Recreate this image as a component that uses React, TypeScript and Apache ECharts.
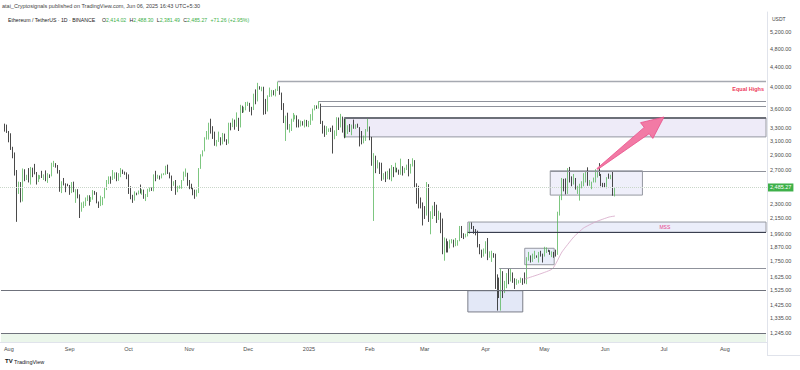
import React, { useEffect, useRef } from 'react';
import * as echarts from 'echarts';

// ---------- data ----------
const START_DATE = '2024-07-28';
const DAY_COUNT = 391;
const FIRST_CANDLE = '2024-07-30';

// daily candles [open, close, low, high], 2024-07-30 .. 2025-06-06
const ohlc: number[][] = [
  [3320,3280,3240,3365],[3280,3230,3220,3350],
  [3230,3205,3080,3250],[3205,2990,2970,3215],[2990,2905,2855,3015],[2905,2690,2630,2935],[2690,2420,2111,2700],
  [2420,2460,2410,2555],[2460,2340,2315,2550],[2340,2680,2325,2720],[2680,2600,2560,2710],[2600,2610,2575,2640],
  [2610,2555,2545,2725],[2555,2720,2520,2740],[2720,2700,2610,2730],[2700,2660,2645,2780],[2660,2570,2520,2675],
  [2570,2590,2550,2640],[2590,2615,2585,2635],[2615,2610,2600,2690],[2610,2635,2575,2645],[2635,2575,2560,2695],
  [2575,2630,2540,2660],[2630,2625,2600,2645],[2625,2765,2620,2795],[2765,2770,2740,2820],[2770,2750,2730,2790],
  [2750,2680,2655,2765],[2680,2455,2435,2700],[2455,2530,2420,2560],[2530,2528,2510,2600],[2528,2525,2430,2535],
  [2525,2510,2500,2530],
  [2510,2425,2400,2515],[2425,2540,2420,2550],[2540,2450,2430,2555],[2450,2452,2310,2465],[2452,2370,2360,2465],
  [2370,2225,2150,2405],[2225,2275,2215,2315],[2275,2300,2255,2325],[2300,2360,2275,2370],[2360,2390,2330,2395],
  [2390,2340,2280,2395],[2340,2360,2320,2375],[2360,2440,2345,2455],[2440,2420,2400,2445],[2420,2315,2305,2430],
  [2315,2295,2255,2325],[2295,2340,2275,2390],[2340,2370,2285,2375],[2370,2465,2360,2485],[2465,2560,2455,2575],
  [2560,2615,2525,2620],[2615,2580,2530,2620],[2580,2645,2575,2700],[2645,2655,2590,2670],[2655,2580,2560,2670],
  [2580,2630,2565,2660],[2630,2695,2610,2725],[2695,2675,2650,2705],[2675,2660,2640,2680],[2660,2600,2585,2670],
  [2600,2450,2410,2645],[2450,2360,2350,2500],[2360,2350,2310,2400],[2350,2415,2335,2440],[2415,2413,2395,2425],
  [2413,2440,2405,2450],[2440,2420,2415,2520],[2420,2440,2400,2465],[2440,2370,2355,2460],[2370,2385,2330,2410],
  [2385,2440,2375,2470],[2440,2475,2435,2485],[2475,2460,2445,2485],[2460,2630,2440,2645],[2630,2605,2560,2690],
  [2605,2610,2590,2640],[2610,2605,2580,2630],[2605,2645,2595,2655],[2645,2650,2635,2660],[2650,2745,2640,2755],
  [2745,2665,2650,2770],[2665,2620,2595,2670],[2620,2525,2445,2630],[2525,2535,2505,2560],[2535,2440,2400,2575],
  [2440,2480,2430,2505],[2480,2505,2470,2510],[2505,2570,2470,2575],[2570,2640,2565,2680],[2640,2660,2615,2720],
  [2660,2515,2505,2665],
  [2515,2510,2465,2575],[2510,2490,2465,2530],[2490,2455,2395,2490],[2455,2400,2355,2460],[2400,2425,2380,2460],
  [2425,2720,2420,2725],[2720,2895,2715,2910],[2895,2960,2880,2965],[2960,3125,2950,3155],[3125,3185,3120,3250],
  [3185,3370,3120,3380],[3370,3240,3210,3445],[3240,3185,3130,3325],[3185,3060,3030,3240],[3060,3105,3020,3115],
  [3105,3130,3085,3240],[3130,3075,3035,3155],[3075,3205,3050,3220],[3205,3105,3090,3210],[3105,3070,3040,3125],
  [3070,3355,3060,3380],[3355,3325,3260,3380],[3325,3395,3310,3450],[3395,3360,3270,3430],[3360,3415,3315,3550],
  [3415,3325,3250,3460],[3325,3655,3305,3680],[3655,3580,3540,3665],[3580,3590,3550,3645],[3590,3705,3585,3730],
  [3705,3710,3660,3735],[3710,3640,3560,3715],[3640,3610,3500,3645],[3610,3835,3590,3880],[3835,3785,3690,3960],
  [3785,4000,3740,4085],[4000,3995,3955,4020],[3995,4005,3925,4010],[4005,3710,3510,4010],[3710,3625,3520,3785],
  [3625,3830,3565,3850],[3830,3880,3820,3995],[3880,3905,3825,3950],[3905,3870,3850,3945],[3870,3960,3830,3970],
  [3960,3985,3930,4107],[3985,3875,3860,4020],[3875,3625,3590,3900],[3625,3420,3375,3710],[3420,3475,3100,3495],
  [3475,3280,3270,3545],[3280,3282,3225,3360],[3282,3420,3250,3445],[3420,3490,3395,3540],[3490,3495,3435,3510],
  [3495,3335,3305,3500],[3335,3330,3305,3435],[3330,3395,3320,3415],[3395,3350,3335,3405],[3350,3360,3305,3430],
  [3360,3330,3320,3425],
  [3330,3355,3310,3410],[3355,3450,3345,3520],[3450,3605,3415,3615],[3605,3655,3585,3675],[3655,3635,3610,3670],
  [3635,3685,3615,3745],[3685,3380,3360,3700],[3380,3325,3210,3410],[3325,3220,3160,3335],[3220,3265,3190,3325],
  [3265,3280,3235,3290],[3280,3265,3235,3300],[3265,3135,2920,3335],[3135,3225,3125,3260],[3225,3450,3175,3470],
  [3450,3310,3265,3465],[3310,3470,3305,3525],[3470,3305,3225,3480],[3305,3215,3140,3445],[3215,3280,3150,3450],
  [3280,3325,3205,3340],[3325,3240,3235,3360],[3240,3340,3185,3350],[3340,3305,3285,3430],[3305,3320,3280,3355],
  [3320,3305,3300,3365],[3305,3180,3020,3310],[3180,3080,3050,3250],[3080,3110,3065,3180],[3110,3250,3100,3280],
  [3250,3300,3240,3440],
  [3300,3135,3110,3320],[3135,2870,2755,3160],[2870,2880,2120,2925],[2880,2730,2660,2890],[2730,2785,2720,2830],
  [2785,2690,2650,2800],[2690,2620,2565,2795],[2620,2630,2580,2660],[2630,2628,2550,2680],[2628,2660,2585,2690],
  [2660,2600,2580,2720],[2600,2735,2560,2765],[2735,2675,2610,2740],[2675,2725,2670,2795],[2725,2690,2670,2730],
  [2690,2660,2640,2705],[2660,2745,2640,2850],[2745,2670,2630,2750],[2670,2715,2660,2730],[2715,2740,2700,2770],
  [2740,2665,2620,2845],[2665,2765,2655,2780],[2765,2815,2745,2855],[2815,2500,2490,2830],[2500,2485,2300,2535],
  [2485,2335,2250,2505],[2335,2305,2250,2370],[2305,2235,2075,2315],
  [2235,2220,2140,2275],[2220,2520,2175,2550],[2520,2150,2110,2525],[2150,2170,1990,2220],[2170,2240,2140,2280],
  [2240,2200,2170,2320],[2200,2140,2100,2290],[2140,2200,2130,2225],[2200,2020,2000,2205],[2020,1865,1810,2145],
  [1865,1920,1755,1960],[1920,1910,1825,1950],[1910,1865,1825,1925],[1865,1910,1860,1940],[1910,1935,1905,1945],
  [1935,1885,1870,1940],[1885,1925,1880,1955],[1925,1930,1885,1935],[1930,2055,1925,2070],[2055,1980,1955,2070],
  [1980,1965,1945,2000],[1965,1980,1960,1995],[1980,2005,1970,2015],[2005,2080,1995,2105],[2080,2065,2040,2105],
  [2065,2010,1995,2070],[2010,2005,1980,2040],[2005,1895,1870,2025],[1895,1830,1810,1900],[1830,1805,1780,1850],
  [1805,1825,1790,1860],
  [1825,1905,1815,1925],[1905,1795,1760,1955],[1795,1815,1780,1835],[1815,1817,1745,1840],[1817,1805,1780,1820],
  [1805,1580,1535,1815],[1580,1555,1385,1645],[1555,1475,1470,1620],[1475,1670,1385,1690],[1670,1520,1470,1670],
  [1520,1565,1505,1595],[1565,1645,1540,1655],[1645,1595,1570,1690],[1595,1625,1590,1690],[1625,1585,1580,1660],
  [1585,1575,1535,1615],[1575,1585,1565,1610],[1585,1590,1575,1600],[1590,1615,1580,1620],[1615,1585,1565,1615],
  [1585,1580,1575,1660],[1580,1755,1570,1785],[1755,1795,1755,1830],[1795,1770,1740,1800],[1770,1772,1745,1815],
  [1772,1790,1770,1840],[1790,1785,1780,1800],[1785,1800,1740,1830],[1800,1795,1790,1840],[1795,1793,1740,1815],
  [1793,1840,1790,1875],[1840,1843,1820,1870],[1843,1835,1830,1850],[1835,1810,1805,1845],[1810,1815,1785,1835],
  [1815,1812,1780,1830],[1812,1808,1790,1850],[1808,2205,1805,2215],[2205,2345,2175,2390],[2345,2580,2340,2600],
  [2580,2515,2440,2590],[2515,2495,2405,2595],[2495,2680,2410,2725],[2680,2610,2545,2740],[2610,2545,2500,2620],
  [2545,2595,2520,2650],[2595,2475,2460,2600],[2475,2500,2410,2505],[2500,2525,2335,2530],[2525,2527,2475,2560],
  [2527,2550,2500,2660],[2550,2665,2545,2680],[2665,2525,2505,2735],[2525,2530,2505,2575],[2530,2550,2465,2555],
  [2550,2565,2545,2605],[2565,2660,2545,2710],[2660,2680,2605,2690],[2680,2635,2625,2790],[2635,2530,2500,2650],
  [2530,2525,2490,2540],
  [2525,2510,2490,2540],[2510,2605,2475,2610],[2605,2595,2590,2655],[2595,2605,2585,2640],[2605,2414.02,2390,2680],
  [2414.02,2485.27,2381.49,2488.3],
];

// moving-average style curve
const maDates = ['2025-04-21','2025-05-05','2025-05-10','2025-05-16','2025-05-21','2025-05-27','2025-06-03','2025-06-06'];
const maValues = [1609, 1687, 1830, 1965, 2050, 2110, 2160, 2170];

const priceTicks = [5200,4800,4400,4000,3600,3300,3100,2900,2700,2300,2150,1990,1870,1750,1625,1525,1425,1335,1245];
const monthNames = ['Jan','Feb','Mar','Apr','May','Jun','Jul','Aug','Sep','Oct','Nov','Dec'];
const lastPrice = 2485.27;

const header1 = 'atai_Cryptosignals published on TradingView.com, Jun 06, 2025 16:43 UTC+5:30';
const symbolName = 'Ethereum / TetherUS · 1D · BINANCE';
const ohlcLabels = ['O', 'H', 'L', 'C'];
const ohlcHeader = ['2,414.02', '2,488.30', '2,381.49', '2,485.27'];
const changeText = '+71.26 (+2.95%)';

// ---------- helpers ----------
const fmt = (v: number) => {
  const [i, d] = Number(v).toFixed(2).split('.');
  return i.replace(/\B(?=(\d{3})+(?!\d))/g, ',') + '.' + d;
};

const categories: string[] = [];
{
  const [y, m, d] = START_DATE.split('-').map(Number);
  const t0 = Date.UTC(y, m - 1, d);
  for (let k = 0; k < DAY_COUNT; k++) categories.push(new Date(t0 + k * 86400000).toISOString().slice(0, 10));
}
const lastCat = categories[categories.length - 1];
const firstCat = categories[0];
const offset = categories.indexOf(FIRST_CANDLE);
const candleData = categories.map((_, k) => {
  const j = k - offset;
  return j >= 0 && j < ohlc.length ? ohlc[j] : '-';
});
const maData = categories.map((c) => {
  const j = maDates.indexOf(c);
  return j >= 0 ? maValues[j] : null;
});

const GREEN = '#5cb860';
const DOWN = '#1c1c1c';
const LINE_GREY = '#9598a1';
const BOX_FILL = 'rgba(220,220,244,0.45)';
const FONT = 'Liberation Sans, Arial, sans-serif';

const hline = (d0: string, d1: string, p: number, color = LINE_GREY, width = 1, extra: any = {}) => [
  { coord: [d0, p], lineStyle: { color, width, type: 'solid' }, ...extra },
  { coord: [d1, p] },
];
const box = (d0: string, d1: string, p0: number, p1: number, fill = BOX_FILL, border = LINE_GREY, extra: any = {}) => [
  { coord: [d0, p0], itemStyle: { color: fill, borderColor: border, borderWidth: 1 }, ...extra },
  { coord: [d1, p1] },
];

export default function App() {
  const ref = useRef<HTMLDivElement>(null);
  useEffect(() => {
    if (!ref.current) return;
    const chart = echarts.init(ref.current, undefined, { renderer: 'svg' });
    const arrowStart = categories.indexOf('2025-05-28');
    const arrowEnd = categories.indexOf('2025-07-01');

    const option: any = {
      animation: false,
      backgroundColor: '#ffffff',
      textStyle: { fontFamily: FONT },
      grid: { left: 0, right: 33, top: 12, bottom: 28, containLabel: false, outerBoundsMode: 'none' },
      xAxis: {
        type: 'category',
        data: categories,
        boundaryGap: true,
        axisLine: { show: true, lineStyle: { color: '#e0e3eb' } },
        axisTick: { show: false },
        splitLine: { show: false },
        axisLabel: {
          interval: (_i: number, v: string) => v.endsWith('-01'),
          formatter: (v: string) => {
            const m = Number(v.slice(5, 7));
            return m === 1 ? v.slice(0, 4) : monthNames[m - 1];
          },
          fontSize: 5.5,
          color: '#4a4a4a',
          margin: 4,
          fontFamily: FONT,
        },
      },
      yAxis: {
        type: 'log',
        position: 'right',
        min: 1193,
        max: 5719,
        logBase: 10,
        axisLine: { show: true, lineStyle: { color: '#e0e3eb' } },
        axisTick: { show: false },
        splitLine: { show: false },
        axisLabel: {
          customValues: priceTicks,
          formatter: (v: number) => fmt(v),
          fontSize: 5.5,
          color: '#4a4a4a',
          margin: 3,
          fontFamily: FONT,
        },
      },
      series: [
        {
          type: 'candlestick',
          data: candleData,
          barWidth: 1.2,
          itemStyle: { color: GREEN, color0: DOWN, borderColor: GREEN, borderColor0: DOWN, borderWidth: 0.8 },
          markArea: {
            silent: true,
            data: [
              box(firstCat, lastCat, 1193, 1245, '#ebf6eb', 'rgba(0,0,0,0)'),
              box('2025-01-19', lastCat, 3160, 3460, 'rgba(226,222,244,0.6)'),
              box('2025-05-04', '2025-06-20', 2397, 2690, BOX_FILL),
              box('2025-03-23', lastCat, 2010, 2109, 'rgba(222,226,246,0.6)', LINE_GREY, {
                label: {
                  show: true, position: ['66%', '50%'], align: 'center', verticalAlign: 'middle',
                  formatter: 'MSS', color: '#e8408a', fontSize: 5, fontFamily: FONT,
                },
              }),
              box('2025-04-21', '2025-05-06', 1722, 1862, 'rgba(220,226,246,0.6)'),
              box('2025-03-23', '2025-04-20', 1376, 1522, 'rgba(222,228,246,0.85)', '#7b7e88'),
            ],
          },
          markLine: {
            silent: true,
            symbol: ['none', 'none'],
            label: { show: false },
            data: [
              hline('2024-12-16', lastCat, 4107, '#a6a9b1', 1.3, {
                label: {
                  show: true, position: 'insideEndBottom', formatter: 'Equal Highs', color: '#ee3a5c',
                  fontSize: 5.5, fontWeight: 'bold', distance: [2, 4], fontFamily: FONT,
                },
              }),
              hline('2025-01-06', lastCat, 3745, '#8f929b', 1),
              hline('2025-01-07', lastCat, 3660, '#8f929b', 1),
              hline('2025-01-19', lastCat, 3460, '#6c6f78', 2),
              hline('2025-05-04', lastCat, 2690, '#8f929b', 1),
              hline('2025-03-23', lastCat, 2010, '#3a3f4f', 1.2),
              hline('2025-04-08', lastCat, 1690, '#8f929b', 1),
              hline(firstCat, lastCat, 1525, '#6f727c', 1),
              hline(firstCat, lastCat, 1245, '#6f727c', 1),
              {
                yAxis: lastPrice,
                lineStyle: { color: '#c9d6c9', type: 'dotted', width: 1 },
                label: {
                  show: true, position: 'end', formatter: fmt(lastPrice), color: '#ffffff',
                  backgroundColor: '#3eb049', padding: [1, 2, 1, 2], fontSize: 5.5, distance: 1, fontFamily: FONT,
                },
              },
            ],
          },
        },
        {
          type: 'line',
          data: maData,
          connectNulls: true,
          showSymbol: false,
          symbol: 'none',
          smooth: 0.15,
          lineStyle: { color: '#d6a6c6', width: 0.8 },
          silent: true,
          z: 3,
        },
        {
          type: 'custom',
          silent: true,
          z: 5,
          data: [[arrowStart, 2713, arrowEnd, 3473]],
          renderItem: (_p: any, api: any) => {
            const a = api.coord([api.value(0), api.value(1)]);
            const b = api.coord([api.value(2), api.value(3)]);
            const dx = b[0] - a[0], dy = b[1] - a[1];
            const len = Math.hypot(dx, dy) || 1;
            const ux = dx / len, uy = dy / len;
            const nx = -uy, ny = ux;
            const headLen = 22, headW = 10, shaftEnd = 4, shaftStart = 0.6;
            const bx = b[0] - ux * headLen, by = b[1] - uy * headLen;
            const pts = [
              [a[0] + nx * shaftStart, a[1] + ny * shaftStart],
              [bx + nx * shaftEnd, by + ny * shaftEnd],
              [bx + nx * headW, by + ny * headW],
              [b[0], b[1]],
              [bx - nx * headW, by - ny * headW],
              [bx - nx * shaftEnd, by - ny * shaftEnd],
              [a[0] - nx * shaftStart, a[1] - ny * shaftStart],
            ];
            return { type: 'polygon', shape: { points: pts }, style: { fill: '#f27aa5', stroke: '#e8508a', lineWidth: 0.8 } };
          },
        },
      ],
      graphic: [
        { type: 'text', left: 2, top: 3, style: { text: header1, fontSize: 5.5, fill: '#444', fontFamily: FONT } },
        {
          type: 'text', left: 8, top: 14,
          style: {
            text: `{n|${symbolName}}  ` + ohlcLabels.map((l, i) => `{k|${l}}{v|${ohlcHeader[i]}}`).join(' ') + ` {v|${changeText}}`,
            fontFamily: FONT,
            rich: {
              n: { fontSize: 5.2, fill: '#222', fontFamily: FONT },
              k: { fontSize: 5.2, fill: '#222', fontFamily: FONT },
              v: { fontSize: 5.2, fill: '#3eb049', fontFamily: FONT },
            },
          },
        },
        { type: 'text', left: 772, top: 16, style: { text: 'USDT', fontSize: 5, fill: '#444', fontFamily: FONT } },
        { type: 'line', shape: { x1: 767.5, y1: 342, x2: 767.5, y2: 355 }, style: { stroke: '#e0e3eb', lineWidth: 1 } },
        { type: 'line', shape: { x1: 767, y1: 355.5, x2: 800, y2: 355.5 }, style: { stroke: '#e0e3eb', lineWidth: 1 } },
        { type: 'text', left: 5, top: 358, style: { text: 'TV', fontSize: 6, fontWeight: 'bold', fill: '#131722', fontFamily: FONT } },
        { type: 'text', left: 14, top: 358.5, style: { text: 'TradingView', fontSize: 5.5, fill: '#131722', fontFamily: FONT } },
      ],
    };
    chart.setOption(option);
    return () => chart.dispose();
  }, []);
  return <div ref={ref} style={{ position: 'absolute', left: 0, top: 0, width: 800, height: 370 }} />;
}
